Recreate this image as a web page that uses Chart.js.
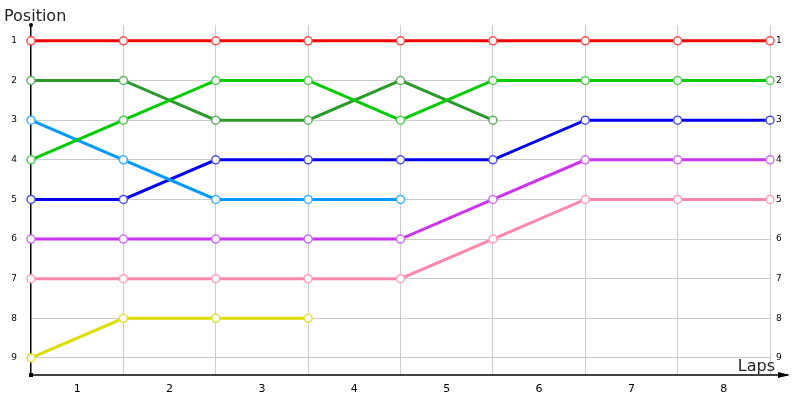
<!DOCTYPE html>
<html>
<head>
<meta charset="utf-8">
<script src="https://cdn.jsdelivr.net/npm/chart.js@4"></script>
<style>
  html, body { margin: 0; padding: 0; background: #fff; }
  #wrap { width: 800px; height: 400px; }
</style>
</head>
<body>
<div id="wrap"><canvas id="lapChart"></canvas></div>
<script>
// Data: position per lap marker (index 0 = start, 8 = finish)
const lapLabels = ['1', '2', '3', '4', '5', '6', '7', '8'];
const positionTicks = [1, 2, 3, 4, 5, 6, 7, 8, 9];

const redPos        = [1, 1, 1, 1, 1, 1, 1, 1, 1];
const lightGreenPos = [4, 3, 2, 2, 3, 2, 2, 2, 2];
const darkGreenPos  = [2, 2, 3, 3, 2, 3];
const lightBluePos  = [3, 4, 5, 5, 5];
const bluePos       = [5, 5, 4, 4, 4, 4, 3, 3, 3];
const purplePos     = [6, 6, 6, 6, 6, 5, 4, 4, 4];
const pinkPos       = [7, 7, 7, 7, 7, 6, 5, 5, 5];
const yellowPos     = [9, 8, 8, 8];

const byId = (id) => document.getElementById(id);
const toPoints = (arr) => arr.map((y, x) => ({ x, y }));

const series = [
  { data: redPos,        line: '#f00000', point: '#ff5050' },
  { data: lightGreenPos, line: '#00cc00', point: '#50cc50' },
  { data: darkGreenPos,  line: '#2a9a2a', point: '#60b060' },
  { data: lightBluePos,  line: '#0099ff', point: '#40b0ff' },
  { data: bluePos,       line: '#0000ee', point: '#5050ee' },
  { data: purplePos,     line: '#cc33ee', point: '#d070f0' },
  { data: pinkPos,       line: '#ff88aa', point: '#ffa0bb' },
  { data: yellowPos,     line: '#dddd00', point: '#e0e040' }
];

// axis arrows and titles
const decorPlugin = {
  id: 'decor',
  beforeDatasetsDraw(chart) {
    const { ctx, chartArea: a } = chart;
    ctx.save();
    ctx.strokeStyle = '#000';
    ctx.fillStyle = '#000';
    ctx.lineWidth = 1.5;
    // bottom axis extended to arrow
    ctx.beginPath();
    ctx.moveTo(a.left, a.bottom);
    ctx.lineTo(788, a.bottom);
    ctx.stroke();
    ctx.beginPath();
    ctx.moveTo(790, a.bottom);
    ctx.lineTo(778, a.bottom - 3);
    ctx.lineTo(778, a.bottom + 3);
    ctx.closePath();
    ctx.fill();
    // small dots at axis ends
    ctx.beginPath();
    ctx.arc(a.left, a.top, 2, 0, Math.PI * 2);
    ctx.fill();
    ctx.fillRect(a.left - 2, a.bottom - 2, 4, 4);
    ctx.restore();
  },
  afterDraw(chart) {
    const { ctx } = chart;
    ctx.save();
    ctx.font = '16px "DejaVu Sans"';
    ctx.textBaseline = 'alphabetic';
    ctx.textAlign = 'left';
    ctx.fillStyle = '#222';
    ctx.fillText('Position', 4, 21);
    ctx.textAlign = 'right';
    ctx.fillText('Laps', 775, 371);
    ctx.restore();
  }
};

new Chart(byId('lapChart').getContext('2d'), {
  type: 'line',
  data: {
    datasets: series.map(s => ({
      data: toPoints(s.data),
      borderColor: s.line,
      borderWidth: 3,
      tension: 0,
      clip: false,
      pointRadius: 4,
      pointHoverRadius: 4,
      pointBackgroundColor: '#fff',
      pointBorderColor: s.point,
      pointBorderWidth: 1.5
    }))
  },
  options: {
    responsive: true,
    maintainAspectRatio: false,
    animation: false,
    events: [],
    layout: { padding: { top: 25, left: 0, right: 0, bottom: 0 } },
    plugins: { legend: { display: false }, tooltip: { enabled: false } },
    scales: {
      x: {
        type: 'linear',
        min: 0,
        max: 8,
        afterBuildTicks: (axis) => {
          const t = [];
          for (let v = 0; v <= 8; v += 0.5) t.push({ value: v });
          axis.ticks = t;
        },
        afterFit: (axis) => { axis.height = 25; },
        border: { display: false },
        grid: {
          drawTicks: false,
          color: (c) => (c.tick && Number.isInteger(c.tick.value) && c.tick.value > 0) ? '#cccccc' : 'rgba(0,0,0,0)',
          lineWidth: 1
        },
        ticks: {
          autoSkip: false,
          maxRotation: 0,
          padding: 8,
          color: '#000',
          font: { family: 'DejaVu Sans', size: 11 },
          callback: (v) => Number.isInteger(v) ? '' : lapLabels[Math.floor(v)]
        }
      },
      y: {
        type: 'linear',
        reverse: true,
        min: 0.6,
        max: 9.43,
        position: 'left',
        afterBuildTicks: (axis) => { axis.ticks = positionTicks.map(v => ({ value: v })); },
        afterFit: (axis) => { axis.width = 31; },
        border: { display: true, color: '#000', width: 1.5 },
        grid: { drawTicks: false, color: '#cccccc', lineWidth: 1 },
        ticks: {
          padding: 14,
          color: '#000',
          font: { family: 'DejaVu Sans', size: 9 }
        }
      },
      y2: {
        type: 'linear',
        reverse: true,
        min: 0.6,
        max: 9.43,
        position: 'right',
        afterBuildTicks: (axis) => { axis.ticks = positionTicks.map(v => ({ value: v })); },
        afterFit: (axis) => { axis.width = 30; },
        border: { display: false },
        grid: { display: false, drawTicks: false },
        ticks: {
          padding: 6,
          color: '#000',
          font: { family: 'DejaVu Sans', size: 9 }
        }
      }
    }
  },
  plugins: [decorPlugin]
});
</script>
</body>
</html>
